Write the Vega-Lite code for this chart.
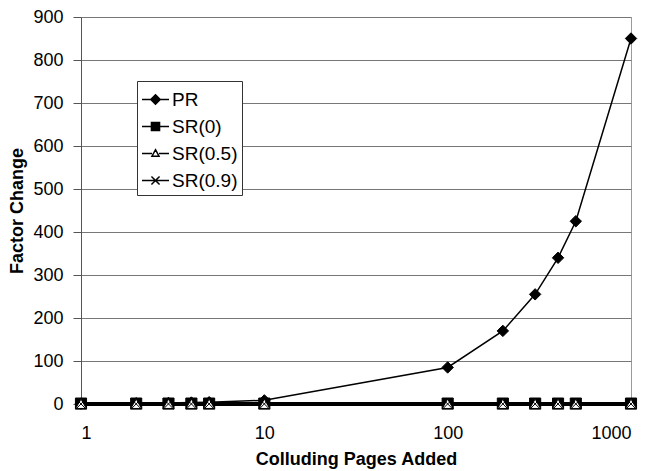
{
  "$schema": "https://vega.github.io/schema/vega-lite/v6.json",
  "width": 550,
  "height": 387,
  "autosize": {"type": "none"},
  "padding": {"left": 81, "top": 17, "right": 22, "bottom": 67},
  "background": "white",
  "config": {
    "font": "Liberation Sans",
    "view": {"stroke": "#9a9a9a", "strokeWidth": 1},
    "axis": {
      "labelFont": "Liberation Sans",
      "labelFontSize": 18,
      "labelColor": "#000000",
      "titleFont": "Liberation Sans",
      "titleFontSize": 18,
      "titleFontWeight": "bold",
      "titleColor": "#000000",
      "domainColor": "#555555",
      "tickColor": "#555555"
    },
    "legend": {
      "orient": "none",
      "legendX": 56,
      "legendY": 64,
      "fillColor": "white",
      "strokeColor": "#333333",
      "padding": 4,
      "symbolSize": 729,
      "symbolStrokeWidth": 1.5,
      "labelFont": "Liberation Sans",
      "labelFontSize": 19,
      "labelColor": "black",
      "labelOffset": 2,
      "rowPadding": 2
    }
  },
  "data": {
    "values": [
      {"series": "PR", "pages": 1, "value": 0.85},
      {"series": "PR", "pages": 2, "value": 1.7},
      {"series": "PR", "pages": 3, "value": 2.55},
      {"series": "PR", "pages": 4, "value": 3.4},
      {"series": "PR", "pages": 5, "value": 4.25},
      {"series": "PR", "pages": 10, "value": 8.5},
      {"series": "PR", "pages": 100, "value": 85},
      {"series": "PR", "pages": 200, "value": 170},
      {"series": "PR", "pages": 300, "value": 255},
      {"series": "PR", "pages": 400, "value": 340},
      {"series": "PR", "pages": 500, "value": 425},
      {"series": "PR", "pages": 1000, "value": 850},
      {"series": "SR(0)", "pages": 1, "value": 1},
      {"series": "SR(0)", "pages": 2, "value": 1},
      {"series": "SR(0)", "pages": 3, "value": 1},
      {"series": "SR(0)", "pages": 4, "value": 1},
      {"series": "SR(0)", "pages": 5, "value": 1},
      {"series": "SR(0)", "pages": 10, "value": 1},
      {"series": "SR(0)", "pages": 100, "value": 1},
      {"series": "SR(0)", "pages": 200, "value": 1},
      {"series": "SR(0)", "pages": 300, "value": 1},
      {"series": "SR(0)", "pages": 400, "value": 1},
      {"series": "SR(0)", "pages": 500, "value": 1},
      {"series": "SR(0)", "pages": 1000, "value": 1},
      {"series": "SR(0.5)", "pages": 1, "value": 0.5},
      {"series": "SR(0.5)", "pages": 2, "value": 0.5},
      {"series": "SR(0.5)", "pages": 3, "value": 0.5},
      {"series": "SR(0.5)", "pages": 4, "value": 0.5},
      {"series": "SR(0.5)", "pages": 5, "value": 0.5},
      {"series": "SR(0.5)", "pages": 10, "value": 0.5},
      {"series": "SR(0.5)", "pages": 100, "value": 0.5},
      {"series": "SR(0.5)", "pages": 200, "value": 0.5},
      {"series": "SR(0.5)", "pages": 300, "value": 0.5},
      {"series": "SR(0.5)", "pages": 400, "value": 0.5},
      {"series": "SR(0.5)", "pages": 500, "value": 0.5},
      {"series": "SR(0.5)", "pages": 1000, "value": 0.5},
      {"series": "SR(0.9)", "pages": 1, "value": 0.2},
      {"series": "SR(0.9)", "pages": 2, "value": 0.2},
      {"series": "SR(0.9)", "pages": 3, "value": 0.2},
      {"series": "SR(0.9)", "pages": 4, "value": 0.2},
      {"series": "SR(0.9)", "pages": 5, "value": 0.2},
      {"series": "SR(0.9)", "pages": 10, "value": 0.2},
      {"series": "SR(0.9)", "pages": 100, "value": 0.2},
      {"series": "SR(0.9)", "pages": 200, "value": 0.2},
      {"series": "SR(0.9)", "pages": 300, "value": 0.2},
      {"series": "SR(0.9)", "pages": 400, "value": 0.2},
      {"series": "SR(0.9)", "pages": 500, "value": 0.2},
      {"series": "SR(0.9)", "pages": 1000, "value": 0.2}
    ]
  },
  "encoding": {
    "x": {
      "field": "pages",
      "type": "quantitative",
      "scale": {"type": "log", "domain": [1, 1000]},
      "axis": {
        "values": [1, 10, 100, 1000],
        "format": "d",
        "grid": false,
        "tickSize": 0,
        "labelPadding": 20,
        "title": "Colluding Pages Added",
        "titlePadding": 8
      }
    },
    "y": {
      "field": "value",
      "type": "quantitative",
      "scale": {"domain": [0, 900], "nice": false},
      "axis": {
        "values": [0, 100, 200, 300, 400, 500, 600, 700, 800, 900],
        "grid": true,
        "gridColor": "#777777",
        "tickSize": 8,
        "labelPadding": 10,
        "title": "Factor Change",
        "titlePadding": 6
      }
    }
  },
  "layer": [
    {
      "mark": {"type": "line", "color": "black"},
      "encoding": {
        "detail": {"field": "series"},
        "strokeWidth": {
          "field": "series",
          "type": "nominal",
          "scale": {"domain": ["PR", "SR(0)", "SR(0.5)", "SR(0.9)"], "range": [1.5, 4, 2, 2]},
          "legend": null
        }
      }
    },
    {
      "mark": {"type": "point", "stroke": "black", "strokeWidth": 1, "opacity": 1},
      "encoding": {
        "shape": {
          "field": "series",
          "type": "nominal",
          "scale": {
            "domain": ["PR", "SR(0)", "SR(0.5)", "SR(0.9)"],
            "range": ["diamond", "square", "triangle-up", "M-1,-1L1,1M-1,1L1,-1"]
          },
          "legend": null
        },
        "fill": {
          "field": "series",
          "type": "nominal",
          "scale": {"domain": ["PR", "SR(0)", "SR(0.5)", "SR(0.9)"], "range": ["black", "black", "white", "transparent"]},
          "legend": null
        },
        "size": {
          "field": "series",
          "type": "nominal",
          "scale": {"domain": ["PR", "SR(0)", "SR(0.5)", "SR(0.9)"], "range": [130, 110, 40, 60]},
          "legend": null
        }
      }
    },
    {
      "transform": [{"filter": "datum.value < 0"}],
      "mark": {"type": "point", "strokeWidth": 1.5, "opacity": 1},
      "encoding": {
        "shape": {
          "field": "series",
          "type": "nominal",
          "scale": {
            "domain": ["PR", "SR(0)", "SR(0.5)", "SR(0.9)"],
            "range": [
              "M-1,0H1M0,-0.35L0.35,0L0,0.35L-0.35,0Z",
              "M-1,0H1M-0.3,-0.3H0.3V0.3H-0.3Z",
              "M-1,0H-0.26M0.26,0H1M0,-0.28L0.26,0.2H-0.26Z",
              "M-1,0H1M-0.3,-0.3L0.3,0.3M-0.3,0.3L0.3,-0.3"
            ]
          },
          "legend": {"title": null}
        },
        "fill": {
          "field": "series",
          "type": "nominal",
          "scale": {"domain": ["PR", "SR(0)", "SR(0.5)", "SR(0.9)"], "range": ["black", "black", "white", "transparent"]},
          "legend": {"title": null}
        },
        "stroke": {
          "field": "series",
          "type": "nominal",
          "scale": {"domain": ["PR", "SR(0)", "SR(0.5)", "SR(0.9)"], "range": ["black", "black", "black", "black"]},
          "legend": {"title": null}
        }
      }
    }
  ],
  "resolve": {"scale": {"shape": "independent", "fill": "independent", "size": "independent", "stroke": "independent"}}
}
